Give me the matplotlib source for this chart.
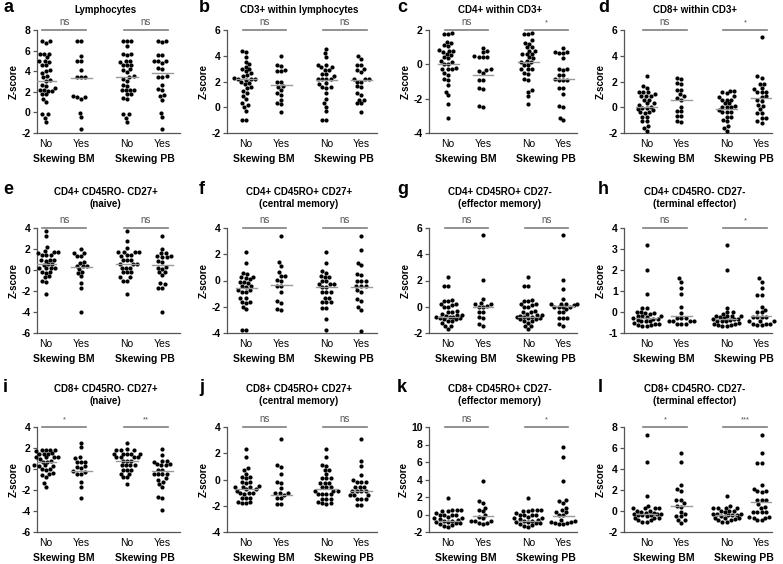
import numpy as np
import matplotlib
matplotlib.use("Agg")
import matplotlib.pyplot as plt

plt.rcParams['font.family'] = ['Liberation Sans', 'DejaVu Sans']

# ---------------- data (Z-scores) ----------------
groups = ["No", "Yes", "No", "Yes"]
group_titles = ["Skewing BM", "Skewing PB"]

a_bm_no = [6.9, 6.75, 6.9, 5.7, 5.65, 5.7, 5.35, 5.0, 4.9, 4.95, 4.6, 4.6, 4.1, 4.05, 3.8, 3.55, 3.4, 3.05, 3.1,
           2.7, 2.6, 2.4, 2.2, 2.1, 2.15, 2.1, 1.8, 1.75, 1.3, 0.98, -0.2, -0.2, -0.5, -0.9]
a_bm_yes = [6.9, 6.97, 5.5, 4.95, 5.0, 4.1, 3.4, 3.4, 3.4, 1.6, 1.45, 1.45, 1.3, -0.05, -0.45, -1.6]
a_pb_no = [6.9, 6.9, 6.9, 6.4, 5.65, 5.6, 5.7, 5.0, 4.9, 5.0, 4.6, 4.6, 4.6, 4.2, 4.1, 3.9, 3.5, 3.4, 3.2, 3.05,
           2.7, 2.6, 2.2, 2.2, 2.15, 2.2, 1.75, 1.75, 1.35, 1.3, -0.2, -0.2, -0.5, -0.9]
a_pb_yes = [6.9, 6.95, 6.8, 5.6, 5.6, 4.95, 4.8, 5.0, 4.95, 4.3, 4.2, 3.4, 3.5, 3.45, 2.65, 2.3, 2.2, 1.7, 1.55,
            1.2, -0.05, -0.45, -1.6]
a_centers = [3.05, 3.35, 3.45, 3.85]

b_bm_no = [4.3, 4.35, 3.9, 3.5, 3.35, 3.15, 3.0, 2.95, 2.8, 2.65, 2.5, 2.4, 2.25, 2.2, 2.2, 2.2, 2.15, 2.0, 1.9,
           1.8, 1.5, 1.55, 1.3, 1.1, 0.9, 0.65, 0.3, 0.15, 0.0, -0.3, -1.0, -1.0]
b_bm_yes = [4.0, 3.2, 3.3, 2.9, 2.85, 2.8, 2.0, 2.0, 1.6, 1.65, 1.35, 1.1, 0.95, 0.6, 0.3, 0.25, -0.4]
b_pb_no = [4.5, 4.2, 3.9, 3.25, 3.3, 3.15, 2.9, 2.9, 3.1, 2.6, 2.6, 2.45, 2.2, 2.2, 2.2, 2.2, 1.85, 1.8, 1.55,
           1.5, 1.55, 1.1, 0.65, 0.3, 0.05, -0.3, -1.0, -1.0]
b_pb_yes = [3.95, 3.75, 3.3, 3.3, 3.0, 2.9, 2.75, 2.2, 2.2, 2.2, 2.0, 2.0, 1.55, 1.65, 1.1, 0.95, 0.6, 0.6, 0.3,
            0.3, -0.4]
b_centers = [2.2, 1.75, 2.15, 2.1]

c_bm_no = [1.85, 1.75, 1.77, 1.3, 1.25, 1.1, 1.05, 0.8, 0.75, 0.85, 0.6, 0.55, 0.7, 0.35, 0.4, 0.15, 0.2, 0.0,
           0.0, -0.3, -0.3, -0.3, -0.2, -0.6, -0.5, -0.85, -0.9, -1.2, -1.6, -1.8, -2.3, -3.15]
c_bm_yes = [0.97, 0.7, 0.75, 0.45, 0.45, 0.45, 0.5, -0.3, -0.35, -0.38, -0.5, -0.9, -0.9, -1.4, -1.45, -2.5, -2.4]
c_pb_no = [1.85, 1.75, 1.77, 1.4, 1.25, 1.2, 1.0, 1.0, 0.8, 0.75, 0.6, 0.6, 0.6, 0.35, 0.4, 0.15, 0.2, 0.15,
           -0.05, -0.05, -0.3, -0.3, -0.3, -0.55, -0.5, -0.9, -0.85, -1.5, -1.6, -1.85, -2.3]
c_pb_yes = [0.97, 0.7, 0.7, 0.65, 0.65, 0.35, -0.3, -0.35, -0.28, -0.6, -0.6, -0.9, -0.9, -0.87, -0.9, -1.4,
            -1.35, -1.7, -2.4, -2.5, -3.1, -3.25]
c_centers = [0.0, -0.65, 0.15, -0.85]

d_bm_no = [2.4, 1.65, 1.5, 1.15, 1.15, 1.15, 1.05, 0.85, 0.85, 0.85, 0.55, 0.6, 0.3, 0.2, 0.3, -0.05, -0.15,
           -0.05, -0.4, -0.45, -0.4, -0.75, -0.75, -1.1, -1.1, -1.45, -1.6, -1.85, 0.05, -0.25]
d_bm_yes = [2.3, 2.2, 1.9, 1.8, 1.35, 1.35, 0.85, 1.0, 0.6, 0.7, 0.05, -0.3, -0.3, -0.7, -0.7, -1.1, -1.15]
d_pb_no = [1.3, 1.3, 1.1, 1.15, 0.85, 0.8, 0.6, 0.6, 0.6, 0.3, 0.3, 0.0, 0.0, 0.0, -0.4, -0.4, -0.4, -0.75,
           -0.75, -1.1, -1.0, -1.45, -1.6, -1.85, -0.2, 0.1]
d_pb_yes = [5.45, 2.4, 2.3, 1.8, 1.8, 1.5, 1.4, 1.2, 1.15, 1.2, 0.85, 0.8, 0.45, 0.55, 0.2, 0.1, -0.15, -0.45,
            -0.45, -0.85, -0.85, -1.1, -1.2]
d_centers = [0.05, 0.55, -0.1, 0.75]

e_bm_no = [3.7, 3.2, 2.15, 1.7, 1.6, 1.7, 1.8, 1.4, 1.45, 1.4, 1.0, 1.0, 1.0, 0.9, 0.55, 0.5, 0.6, 0.2, 0.15,
           0.15, 0.2, -0.2, -0.3, -0.2, -0.6, -0.7, -1.0, -1.1, -2.3]
e_bm_yes = [2.0, 1.6, 1.6, 1.3, 1.3, 0.75, 0.65, 0.4, 0.35, 0.4, 0.1, -0.2, -0.3, -0.6, -1.25, -1.7, -4.0]
e_pb_no = [3.7, 2.8, 2.1, 1.7, 1.7, 1.7, 1.7, 1.45, 1.35, 1.45, 1.0, 1.0, 1.0, 0.55, 0.55, 0.55, 0.2, 0.2,
           0.2, -0.2, -0.2, -0.2, -0.7, -0.7, -1.0, -1.0, -2.3]
e_pb_yes = [3.2, 2.0, 1.6, 1.6, 1.3, 1.2, 1.3, 1.2, 0.75, 0.9, 0.2, 0.1, 0.25, -0.2, -0.2, -0.5, -1.35, -1.25,
            -1.7, -1.7, -4.0]
e_centers = [0.6, 0.3, 0.6, 0.5]

f_bm_no = [2.2, 1.3, 0.6, 0.5, 0.25, 0.1, 0.2, 0.25, -0.1, -0.2, -0.1, -0.4, -0.5, -0.4, -0.7, -0.7, -0.9,
           -0.9, -1.3, -1.3, -1.6, -1.7, -1.6, -2.0, -2.2, -3.8, -3.8]
f_bm_yes = [3.4, 1.4, 1.1, 0.65, 0.35, 0.35, 0.0, 0.05, -0.4, -0.45, -0.85, -1.55, -1.7, -2.15, -2.25]
f_pb_no = [2.2, 1.3, 0.7, 0.6, 0.35, 0.3, 0.25, -0.05, -0.05, -0.3, -0.3, -0.3, -0.5, -0.5, -0.9, -0.9, -0.9,
           -1.3, -1.3, -1.6, -1.6, -1.6, -2.1, -2.1, -2.95, -3.8]
f_pb_yes = [3.4, 2.3, 1.35, 1.15, 0.5, 0.4, 0.0, -0.05, 0.0, -0.4, -0.4, -0.4, -0.7, -0.85, -1.4, -1.55, -2.05,
            -2.25, -3.85]
f_centers = [-0.6, -0.35, -0.5, -0.5]

g_bm_no = [2.3, 1.6, 1.6, 0.55, 0.45, 0.45, 0.2, 0.2, 0.1, -0.05, -0.05, -0.3, -0.4, -0.4, -0.6, -0.65, -0.55,
           -0.7, -0.75, -0.8, -0.85, -0.85, -0.8, -0.9, -0.95, -1.1, -1.1, -1.25, -1.45, -1.45, -1.7]
g_bm_yes = [5.5, 2.05, 0.6, 0.2, 0.3, 0.2, 0.05, 0.0, 0.0, -0.4, -0.4, -0.85, -0.75, -1.35, -1.45]
g_pb_no = [2.3, 1.6, 1.6, 0.5, 0.45, 0.45, 0.2, 0.2, 0.1, -0.05, -0.05, -0.3, -0.4, -0.4, -0.6, -0.65, -0.55,
           -0.7, -0.75, -0.8, -0.85, -0.85, -0.8, -0.9, -0.95, -1.1, -1.1, -1.2, -1.45, -1.5, -1.7]
g_pb_yes = [5.5, 2.05, 1.35, 0.6, 0.2, 0.2, 0.2, 0.2, 0.0, 0.0, 0.0, 0.0, -0.4, -0.4, -0.85, -0.85, -0.85,
            -1.35, -1.45, -0.2, 0.1]
g_centers = [-0.8, 0.0, -0.8, 0.05]

h_bm_no = [3.2, 2.0, 0.85, 0.2, 0.2, -0.05, 0.0, -0.05, 0.0, -0.2, -0.2, -0.2, -0.35, -0.35, -0.45, -0.45,
           -0.45, -0.55, -0.55, -0.65, -0.65, -0.62, -0.3, -0.25, -0.4, -0.5, -0.6, -0.1]
h_bm_yes = [1.6, 1.45, 1.15, 0.85, 0.25, -0.05, -0.3, -0.3, -0.3, -0.45, -0.45, -0.45, -0.45, -0.55, -0.55,
            -0.55]
h_pb_no = [3.2, 2.0, 0.2, 0.0, 0.0, -0.2, -0.2, -0.2, -0.2, -0.35, -0.35, -0.35, -0.45, -0.45, -0.45, -0.55,
           -0.55, -0.65, -0.65, -0.3, -0.25, -0.4, -0.5, -0.6, -0.1, -0.6]
h_pb_yes = [1.6, 1.45, 1.15, 0.8, 0.8, 0.25, 0.0, 0.0, -0.25, -0.25, -0.25, -0.25, -0.45, -0.45, -0.45, -0.55,
            -0.55, -0.55, -0.6, -0.6, 0.1]
h_centers = [-0.3, -0.2, -0.35, -0.2]

i_bm_no = [1.85, 1.8, 1.85, 1.85, 1.7, 1.45, 1.5, 1.45, 1.45, 1.1, 1.0, 1.1, 1.1, 1.1, 0.75, 0.7, 0.7, 0.35,
           0.3, 0.35, 0.3, 0.0, -0.05, 0.0, -0.4, -0.45, -0.75, -0.6, -1.35, -1.7]
i_bm_yes = [2.5, 2.05, 1.05, 1.1, 0.7, 0.7, 0.7, 0.25, 0.2, 0.1, -0.2, -0.3, -0.45, -0.5, -1.25, -1.7, -2.8]
i_pb_no = [2.5, 1.8, 1.95, 1.8, 1.8, 1.45, 1.45, 1.45, 1.45, 1.45, 1.1, 1.1, 1.1, 1.1, 0.75, 0.75, 0.75, 0.35,
           0.35, 0.35, 0.35, -0.05, -0.05, -0.05, -0.45, -0.45, -0.8, -0.8, -1.4]
i_pb_yes = [1.95, 1.3, 0.75, 0.8, 0.7, 0.35, 0.45, 0.35, 0.45, -0.05, -0.05, -0.45, -0.5, -0.45, -0.5, -0.9,
            -1.0, -1.4, -1.25, -1.7, -2.65, -2.8, -3.9]
i_centers = [0.7, -0.15, 0.8, -0.2]

j_bm_no = [2.3, 1.7, 0.9, 0.75, 0.45, 0.2, 0.1, 0.2, -0.2, -0.25, -0.2, -0.5, -0.55, -0.55, -0.55, -0.75,
           -0.85, -0.75, -1.05, -1.1, -1.05, -1.0, -1.4, -1.4, -1.4, -1.75, -1.8, -1.8, -1.7]
j_bm_yes = [3.05, 1.1, 0.95, 0.45, -0.2, -0.25, -0.65, -1.05, -1.15, -1.05, -1.05, -1.4, -1.4, -1.9, -1.9]
j_pb_no = [2.3, 1.7, 1.1, 1.05, 0.75, 0.75, 0.45, 0.1, 0.1, 0.1, -0.25, -0.25, -0.25, -0.55, -0.55, -0.55,
           -0.85, -0.85, -0.85, -1.1, -1.1, -1.1, -1.1, -1.45, -1.45, -1.45, -1.8, -1.9, -1.8, -1.7]
j_pb_yes = [3.05, 1.4, 1.05, 0.35, -0.2, -0.2, -0.2, -0.05, -0.6, -0.6, -0.6, -0.9, -0.9, -0.9, -0.9, -1.2,
            -1.2, -1.2, -1.45, -1.45, -1.45, -1.95, -1.95]
j_centers = [-0.75, -1.15, -0.75, -0.85]

k_bm_no = [1.9, 0.5, 0.4, 0.4, 0.5, 0.5, -0.05, 0.0, -0.05, 0.0, -0.45, -0.5, -0.45, -0.75, -0.85, -0.85,
           -0.75, -1.0, -1.1, -1.0, -1.4, -1.3, 0.2, -0.25, -0.6, -1.2]
k_bm_yes = [3.8, 1.55, 1.3, 0.8, 0.4, 0.5, 0.0, -0.75, -0.75, -0.75, -1.0, -1.1, -1.0, -0.3, -0.4]
k_pb_no = [1.9, 0.5, 0.4, 0.4, 0.5, 0.5, -0.05, 0.0, -0.05, 0.0, -0.45, -0.5, -0.45, -0.75, -0.85, -0.85,
           -0.75, -1.0, -1.1, -1.0, -1.4, -1.3, 0.2, -0.25, -0.6, -1.2]
k_pb_yes = [7.7, 6.6, 3.8, 1.7, 1.5, 1.3, 0.8, 0.55, 0.3, 0.3, -0.05, -0.05, -0.65, -0.8, -0.8, -0.75, -1.0,
            -1.1, -1.0, -1.1]
k_centers = [-0.75, -0.2, -0.75, -0.15]

l_bm_no = [7.2, 4.7, 1.4, 0.5, 0.25, 0.25, 0.25, 0.25, 0.0, 0.0, -0.05, -0.15, -0.25, -0.15, -0.25, -0.4,
           -0.4, -0.4, -0.65, -0.65, -0.65, -0.85, -0.85, -1.0, -1.0, -0.5, -0.3]
l_bm_yes = [5.5, 4.7, 2.5, 2.1, 1.95, 1.05, 1.05, 0.75, 0.5, 0.4, -0.05, -0.25, -0.5, -0.5, -0.85, -0.85, -1.1]
l_pb_no = [1.4, 0.5, 0.25, 0.25, 0.25, 0.3, 0.0, 0.0, 0.0, -0.25, -0.25, -0.25, -0.4, -0.4, -0.4, -0.65,
           -0.65, -0.65, -0.85, -0.85, -1.0, -1.0, -0.5, -0.1, -0.75]
l_pb_yes = [7.2, 5.5, 4.6, 4.6, 2.45, 1.95, 1.9, 2.1, 1.8, 1.05, 1.05, 1.05, 0.65, 0.4, 0.3, -0.05, -0.1,
            -0.05, -0.1, -0.55, -0.55, -0.65, -0.65, -0.85, -0.85]
l_centers = [-0.3, 0.5, -0.35, 0.85]

letters = list("abcdefghijkl")
titles = ["Lymphocytes", "CD3+ within lymphocytes", "CD4+ within CD3+", "CD8+ within CD3+",
          "CD4+ CD45RO- CD27+\n(naive)", "CD4+ CD45RO+ CD27+\n(central memory)",
          "CD4+ CD45RO+ CD27-\n(effector memory)", "CD4+ CD45RO- CD27-\n(terminal effector)",
          "CD8+ CD45RO- CD27+\n(naive)", "CD8+ CD45RO+ CD27+\n(central memory)",
          "CD8+ CD45RO+ CD27-\n(effector memory)", "CD8+ CD45RO- CD27-\n(terminal effector)"]
significance = [("ns", "ns"), ("ns", "ns"), ("ns", "*"), ("ns", "*"),
                ("ns", "ns"), ("ns", "ns"), ("ns", "ns"), ("ns", "*"),
                ("*", "**"), ("ns", "ns"), ("ns", "*"), ("*", "***")]
y_limits = [(-2, 8), (-2, 6), (-4, 2), (-2, 6), (-6, 4), (-4, 4), (-2, 6), (-1, 4),
            (-6, 4), (-4, 4), (-2, 10), (-2, 8)]
y_steps = [2, 2, 2, 2, 2, 2, 2, 1, 2, 2, 2, 2]

panel_data = [
    (a_bm_no, a_bm_yes, a_pb_no, a_pb_yes, a_centers),
    (b_bm_no, b_bm_yes, b_pb_no, b_pb_yes, b_centers),
    (c_bm_no, c_bm_yes, c_pb_no, c_pb_yes, c_centers),
    (d_bm_no, d_bm_yes, d_pb_no, d_pb_yes, d_centers),
    (e_bm_no, e_bm_yes, e_pb_no, e_pb_yes, e_centers),
    (f_bm_no, f_bm_yes, f_pb_no, f_pb_yes, f_centers),
    (g_bm_no, g_bm_yes, g_pb_no, g_pb_yes, g_centers),
    (h_bm_no, h_bm_yes, h_pb_no, h_pb_yes, h_centers),
    (i_bm_no, i_bm_yes, i_pb_no, i_pb_yes, i_centers),
    (j_bm_no, j_bm_yes, j_pb_no, j_pb_yes, j_centers),
    (k_bm_no, k_bm_yes, k_pb_no, k_pb_yes, k_centers),
    (l_bm_no, l_bm_yes, l_pb_no, l_pb_yes, l_centers),
]

# ---------------- layout ----------------
W, H = 783, 564
fig = plt.figure(figsize=(W / 100, H / 100), dpi=100)

positions = [0.0, 1.0, 2.3, 3.3]
col_x = [(37, 180), (227, 377), (429, 577), (624, 772)]
col_xlim = [(-0.25, 3.8), (-0.55, 3.75), (-0.55, 3.7), (-0.65, 3.6)]
row_y = [(30, 133), (228, 333), (427, 532)]
title_y = [10, 198, 395]

DOT = 4.3      # collision spacing in pixels for the swarm
MAXW = 14.0    # max half-width of a swarm in pixels


def beeswarm(values, xscale, yscale):
    vals = np.asarray(values, dtype=float)
    order = np.argsort(vals)
    placed = []
    offs = np.zeros(len(vals))
    for idx in order:
        y = vals[idx] * yscale
        cands = [0.0]
        for (px, py) in placed:
            dy = abs(py - y)
            if dy < DOT:
                dx = np.sqrt(DOT ** 2 - dy ** 2)
                cands += [px + dx, px - dx]
        cands = sorted(cands, key=lambda c: (abs(c), c))
        chosen = None
        for cnd in cands:
            if abs(cnd) > MAXW:
                continue
            ok = True
            for (px, py) in placed:
                if (px - cnd) ** 2 + (py - y) ** 2 < DOT ** 2 - 1e-6:
                    ok = False
                    break
            if ok:
                chosen = cnd
                break
        if chosen is None:
            # crowded row: place at the least-overlapping spot inside the allowed width
            grid = np.linspace(-MAXW, MAXW, 29)
            best = max(grid, key=lambda g: min(((px - g) ** 2 + (py - y) ** 2) for (px, py) in placed))
            chosen = float(best)
        placed.append((chosen, y))
        offs[idx] = chosen / xscale
    return offs


grey = "#7f7f7f"
for k in range(12):
    r, c = divmod(k, 4)
    x0, x1 = col_x[c]
    yt, yb = row_y[r]
    ax = fig.add_axes([x0 / W, 1 - yb / H, (x1 - x0) / W, (yb - yt) / H])
    ymin, ymax = y_limits[k]
    xl = col_xlim[c]
    ax.set_xlim(*xl)
    ax.set_ylim(ymin, ymax)
    xscale = (x1 - x0) / (xl[1] - xl[0])
    yscale = (yb - yt) / (ymax - ymin)

    *series, centers = panel_data[k]
    for p, vals, cen in zip(positions, series, centers):
        offs = beeswarm(vals, xscale, yscale)
        ax.scatter(p + offs, vals, s=9, color="black", linewidths=0, zorder=3, clip_on=False)
        ax.plot([p - 0.3, p + 0.3], [cen, cen], color="#9a9a9a", lw=1.0, zorder=4)

    # significance bars
    for (a0, a1), txt in zip([(-0.1, 1.15), (2.2, 3.45)], significance[k]):
        ax.plot([a0, a1], [ymax, ymax], color=grey, lw=1.2, clip_on=False, zorder=2)
        fs = 7 if txt == "ns" else 5.5
        ax.annotate(txt, xy=((a0 + a1) / 2, ymax), xytext=(0, 2.5), textcoords="offset points",
                    ha="center", va="bottom", fontsize=fs, color="#555555", annotation_clip=False)

    ticks = np.arange(ymin, ymax + 0.001, y_steps[k])
    ax.set_yticks(ticks)
    ax.set_yticklabels([f"{int(v)}" for v in ticks], fontsize=7.5, fontweight="bold")
    ax.set_xticks(positions)
    ax.set_xticklabels(groups, fontsize=7.5)
    ax.tick_params(axis="x", length=0, pad=4)
    ax.tick_params(axis="y", length=3, width=0.9, pad=1.5, color="#555555")
    for s in ["top", "right"]:
        ax.spines[s].set_visible(False)
    for s in ["left", "bottom"]:
        ax.spines[s].set_color("#555555")
        ax.spines[s].set_linewidth(0.9)
    ax.set_ylabel("Z-score", fontsize=7, fontweight="bold", labelpad=2)
    for gx, gt in zip([0.5, 2.8], group_titles):
        ax.annotate(gt, xy=(gx, 0), xycoords=("data", "axes fraction"), xytext=(0, -15),
                    textcoords="offset points", ha="center", va="top", fontsize=7.5,
                    fontweight="bold", annotation_clip=False)

    # title and panel letter
    fig.text(((x0 + x1) / 2 - 3) / W, 1 - title_y[r] / H, titles[k], ha="center", va="center",
             fontsize=7, fontweight="bold", linespacing=1.15)
    lx = [3, 199, 397, 598][c]
    ly = [8, 190, 388][r]
    fig.text(lx / W, 1 - ly / H, letters[k], ha="left", va="center", fontsize=13, fontweight="bold")

fig.savefig("out.png", dpi=100)
